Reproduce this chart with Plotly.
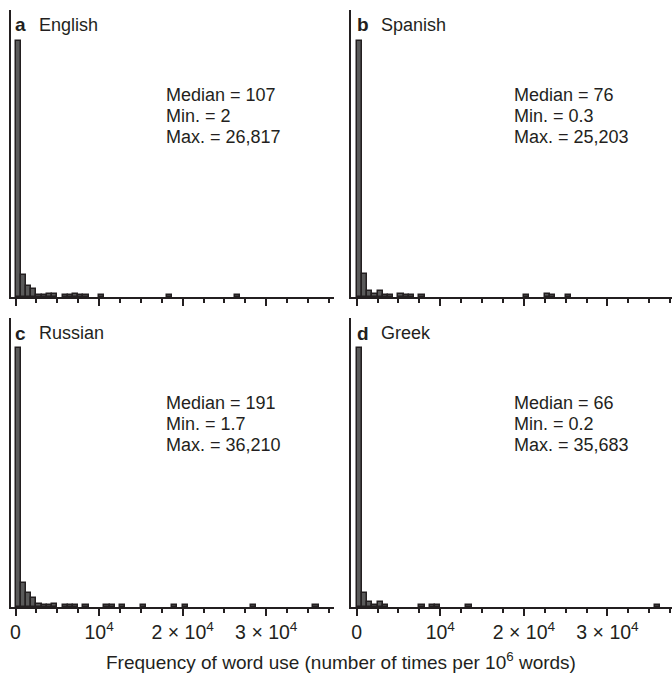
import plotly.graph_objects as go

W, H = 672, 673
BIN_WIDTH = 625

# Histogram counts per 625-wide frequency bin, starting at 0
counts_english = [164, 14, 7, 5, 1, 1, 2, 2, 0, 1,
                  1, 2, 1, 1, 0, 0, 1, 0, 0, 0,
                  0, 0, 0, 0, 0, 0, 0, 0, 0, 1,
                  0, 0, 0, 0, 0, 0, 0, 0, 0, 0,
                  0, 0, 1]
counts_spanish = [164, 15, 4, 2, 4, 1, 1, 0, 2, 1,
                  1, 0, 1, 0, 0, 0, 0, 0, 0, 0,
                  0, 0, 0, 0, 0, 0, 0, 0, 0, 0,
                  0, 0, 1, 0, 0, 0, 2, 1, 0, 0,
                  1]
counts_russian = [165, 15, 9, 6, 2, 1, 1, 2, 0, 1,
                  1, 1, 0, 1, 0, 0, 0, 1, 1, 0,
                  1, 0, 0, 0, 1, 0, 0, 0, 0, 0,
                  1, 0, 1, 0, 0, 0, 0, 0, 0, 0,
                  0, 0, 0, 0, 0, 1, 0, 0, 0, 0,
                  0, 0, 0, 0, 0, 0, 0, 1]
counts_greek = [165, 9, 3, 1, 3, 1, 0, 0, 0, 0,
                0, 0, 1, 0, 1, 1, 0, 0, 0, 0,
                0, 1, 0, 0, 0, 0, 0, 0, 0, 0,
                0, 0, 0, 0, 0, 0, 0, 0, 0, 0,
                0, 0, 0, 0, 0, 0, 0, 0, 0, 0,
                0, 0, 0, 0, 0, 0, 0, 1]

panel_letters = ["a", "b", "c", "d"]
languages = ["English", "Spanish", "Russian", "Greek"]
medians = ["107", "76", "191", "66"]
minimums = ["2", "0.3", "1.7", "0.2"]
maximums = ["26,817", "25,203", "36,210", "35,683"]

tick_vals = [0, 10000, 20000, 30000]
tick_text = ["0", "10<sup>4</sup>", "2 × 10<sup>4</sup>", "3 × 10<sup>4</sup>"]
x_title = "Frequency of word use (number of times per 10<sup>6</sup> words)"

all_counts = [counts_english, counts_spanish, counts_russian, counts_greek]

INK = "#231f20"
FONT = "Liberation Sans, Arial, Helvetica, sans-serif"

def px_x(p):
    return p / W

def px_y(p):
    return 1 - p / H

# pixel geometry of panels: (left, right, top, bottom)
panels = [(11, 334, 10, 297), (351, 672, 10, 297),
          (11, 334, 318, 607), (351, 672, 318, 607)]
x_ranges = [[-540, 38100], [-680, 37717], [-540, 38100], [-680, 37717]]

fig = go.Figure()
layout = dict(width=W, height=H, margin=dict(l=0, r=0, t=0, b=0),
              paper_bgcolor="white", plot_bgcolor="white",
              showlegend=False, bargap=0,
              font=dict(family=FONT, color=INK, size=18))
annotations = []

for i, counts in enumerate(all_counts):
    n = i + 1
    xa = "x" if n == 1 else f"x{n}"
    ya = "y" if n == 1 else f"y{n}"
    xs = [k * BIN_WIDTH + BIN_WIDTH / 2 for k, c in enumerate(counts) if c > 0]
    ys = [c for c in counts if c > 0]
    fig.add_trace(go.Bar(x=xs, y=ys, width=BIN_WIDTH, xaxis=xa, yaxis=ya,
                         marker=dict(color="#5a5a5a", line=dict(color=INK, width=1.5))))
    l, r, t, b = panels[i]
    bottom_row = i >= 2
    layout["xaxis" if n == 1 else f"xaxis{n}"] = dict(
        domain=[px_x(l), px_x(r)], range=x_ranges[i], anchor=ya,
        showline=True, linecolor=INK, linewidth=2, showgrid=False, zeroline=False,
        ticks="outside", ticklen=7, tickwidth=2, tickcolor=INK,
        tickmode="array", tickvals=tick_vals, ticktext=tick_text,
        showticklabels=bottom_row, ticklabelstandoff=0,
        tickfont=dict(family=FONT, size=19.5, color=INK),
        minor=dict(ticks="outside", tickmode="linear", tick0=0, dtick=2500,
                   ticklen=3.5, tickwidth=2, tickcolor=INK, showgrid=False),
    )
    layout["yaxis" if n == 1 else f"yaxis{n}"] = dict(
        domain=[px_y(b), px_y(t)], range=[0, 184], anchor=xa,
        showline=True, linecolor=INK, linewidth=2, showgrid=False, zeroline=False,
        ticks="", showticklabels=False,
    )
    # panel label
    lx = 13 if i % 2 == 0 else 355
    ly = 25 if i < 2 else 333
    annotations.append(dict(x=px_x(lx), y=px_y(ly), xref="paper", yref="paper",
                            text=f"<b>{panel_letters[i]}</b>", showarrow=False,
                            xanchor="left", yanchor="middle",
                            font=dict(family=FONT, size=19, color=INK)))
    annotations.append(dict(x=px_x(lx + 24), y=px_y(ly), xref="paper", yref="paper",
                            text=languages[i], showarrow=False,
                            xanchor="left", yanchor="middle",
                            font=dict(family=FONT, size=18, color=INK)))
    # stats
    sx = 164 if i % 2 == 0 else 512
    sy0 = 95 if i < 2 else 403
    lines = [f"Median = {medians[i]}", f"Min. = {minimums[i]}", f"Max. = {maximums[i]}"]
    for j, txt in enumerate(lines):
        annotations.append(dict(x=px_x(sx), y=px_y(sy0 + j * 20.8), xref="paper", yref="paper",
                                text=txt, showarrow=False, xanchor="left", yanchor="middle",
                                font=dict(family=FONT, size=18, color=INK)))

annotations.append(dict(x=px_x(341), y=px_y(661), xref="paper", yref="paper",
                        text=x_title, showarrow=False, xanchor="center", yanchor="middle",
                        font=dict(family=FONT, size=19, color=INK)))

layout["annotations"] = annotations
fig.update_layout(**layout)
fig.write_html("out.html")
